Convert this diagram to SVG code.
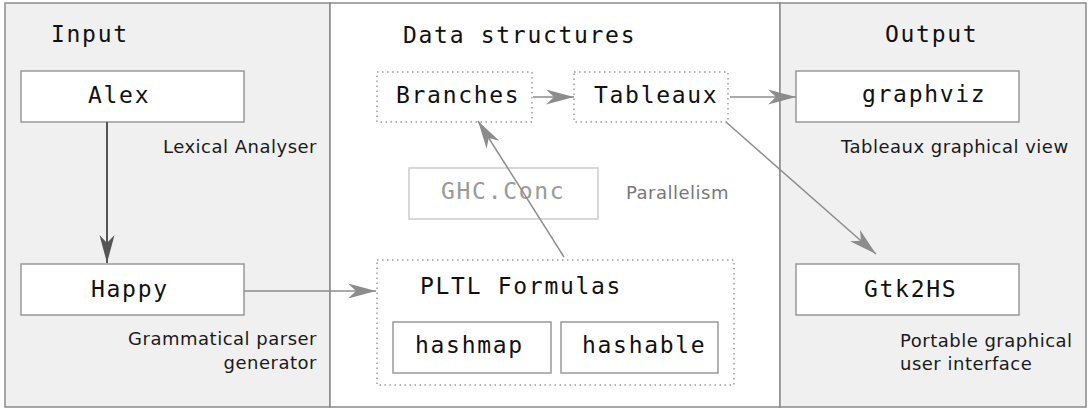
<svg xmlns="http://www.w3.org/2000/svg" width="1089" height="410" viewBox="0 0 1089 410">
  <style>
    .panel { stroke: #8a8a8a; stroke-width: 1.5; }
    .shade { fill: #f0f0f0; }
    .plain { fill: #ffffff; }
    .box { fill: #ffffff; stroke: #999999; stroke-width: 1.5; }
    .dotted { fill: none; stroke: #9a9a9a; stroke-width: 1.5; stroke-dasharray: 1.5 3.5; }
    .faint { fill: #ffffff; stroke: #cccccc; stroke-width: 1.5; }
    .mono { font-family: "DejaVu Sans Mono", "Liberation Mono", monospace; font-size: 23px; letter-spacing: 1.7px; fill: #111111; }
    .mono.dim { fill: #9a9a9a; }
    .note { font-family: "DejaVu Sans", "Liberation Sans", sans-serif; font-size: 18px; letter-spacing: 0.5px; fill: #1a1a1a; }
    .note.dim { fill: #777777; }
    .edge { fill: none; stroke: #8c8c8c; stroke-width: 1.5; }
    .edge.dark { stroke: #555555; stroke-width: 2; }
  </style>
  <defs>
    <marker id="head" markerUnits="userSpaceOnUse" markerWidth="30" markerHeight="18" viewBox="0 -9 30 18" refX="28" refY="0" orient="auto">
      <path d="M0,-7.5 L28,0 L0,7.5 L8,0 Z" fill="#8c8c8c"/>
    </marker>
    <marker id="head-dark" markerUnits="userSpaceOnUse" markerWidth="30" markerHeight="18" viewBox="0 -9 30 18" refX="28" refY="0" orient="auto">
      <path d="M0,-7.5 L28,0 L0,7.5 L8,0 Z" fill="#555555"/>
    </marker>
  </defs>

  <!-- three columns -->
  <g id="panels">
    <rect class="panel shade" x="5" y="3" width="325" height="404"/>
    <rect class="panel plain" x="330" y="3" width="450" height="404"/>
    <rect class="panel shade" x="780" y="3" width="306" height="404"/>
    <text class="mono" x="51" y="42">Input</text>
    <text class="mono" x="403" y="43">Data structures</text>
    <text class="mono" x="885" y="42">Output</text>
  </g>

  <!-- input column -->
  <g id="alex">
    <rect class="box" x="21" y="71" width="223" height="51"/>
    <text class="mono" x="88" y="103">Alex</text>
    <text class="note" x="317" y="153" text-anchor="end">Lexical Analyser</text>
  </g>
  <g id="happy">
    <rect class="box" x="21" y="264" width="223" height="51"/>
    <text class="mono" x="91" y="297">Happy</text>
    <text class="note" x="317" y="345" text-anchor="end">Grammatical parser</text>
    <text class="note" x="317" y="369" text-anchor="end">generator</text>
  </g>

  <!-- data structures column -->
  <g id="branches">
    <rect class="dotted" x="377" y="72" width="155" height="50"/>
    <text class="mono" x="396" y="103">Branches</text>
  </g>
  <g id="tableaux">
    <rect class="dotted" x="574" y="72" width="154" height="50"/>
    <text class="mono" x="594" y="103">Tableaux</text>
  </g>
  <g id="ghc-conc">
    <rect class="faint" x="409" y="168" width="189" height="51"/>
    <text class="mono dim" x="441" y="199">GHC.Conc</text>
    <text class="note dim" x="626" y="199">Parallelism</text>
  </g>
  <g id="pltl-formulas">
    <rect class="dotted" x="377" y="260" width="357" height="125"/>
    <text class="mono" x="420" y="294">PLTL Formulas</text>
    <g id="hashmap">
      <rect class="box" x="393" y="322" width="158" height="51"/>
      <text class="mono" x="415" y="353">hashmap</text>
    </g>
    <g id="hashable">
      <rect class="box" x="561" y="322" width="157" height="51"/>
      <text class="mono" x="582" y="353">hashable</text>
    </g>
  </g>

  <!-- output column -->
  <g id="graphviz">
    <rect class="box" x="796" y="71" width="223" height="51"/>
    <text class="mono" x="862" y="102">graphviz</text>
    <text class="note" x="841" y="153">Tableaux graphical view</text>
  </g>
  <g id="gtk2hs">
    <rect class="box" x="796" y="264" width="223" height="51"/>
    <text class="mono" x="864" y="297">Gtk2HS</text>
    <text class="note" x="900" y="347">Portable graphical</text>
    <text class="note" x="900" y="370">user interface</text>
  </g>

  <!-- connectors -->
  <g id="connectors">
    <line class="edge dark" x1="107" y1="122" x2="107" y2="263" marker-end="url(#head-dark)"/>
    <line class="edge" x1="244" y1="291" x2="376" y2="291" marker-end="url(#head)"/>
    <line class="edge" x1="564" y1="257" x2="478" y2="121" marker-end="url(#head)"/>
    <line class="edge" x1="533" y1="97" x2="574" y2="97" marker-end="url(#head)"/>
    <line class="edge" x1="730" y1="97" x2="796" y2="97" marker-end="url(#head)"/>
    <line class="edge" x1="726" y1="122" x2="876" y2="254" marker-end="url(#head)"/>
  </g>
</svg>
